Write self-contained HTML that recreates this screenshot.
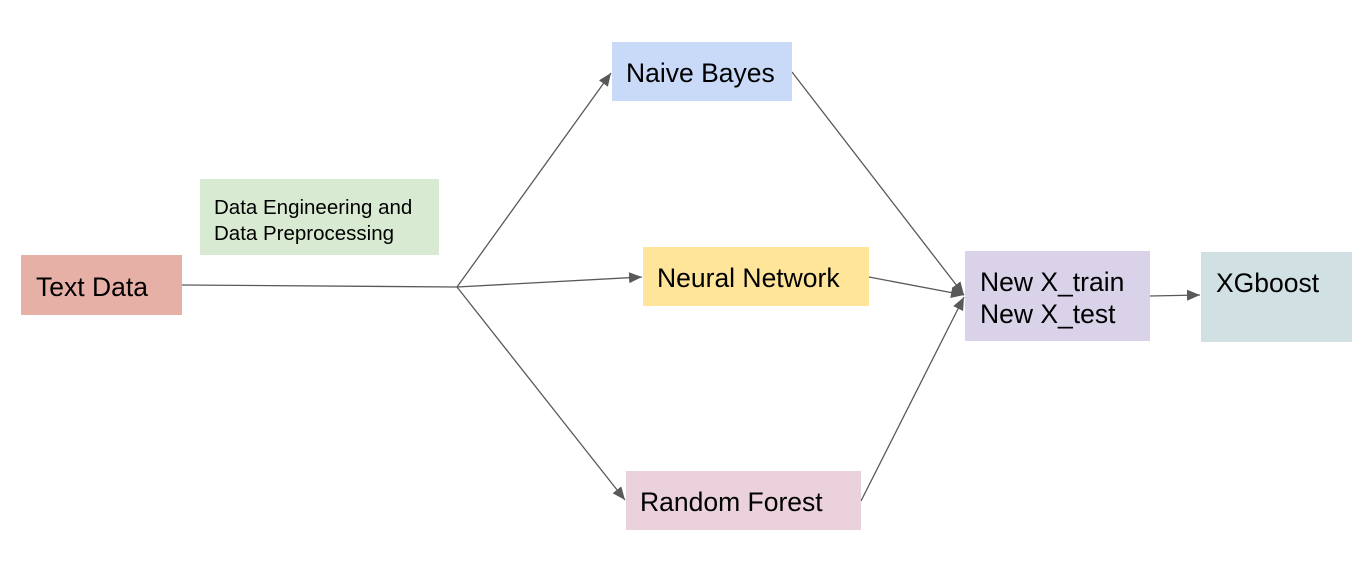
<!DOCTYPE html><html><head><style>
body{margin:0;width:1368px;height:576px;background:#fff;position:relative;overflow:hidden;font-family:"Liberation Sans",Arial,sans-serif;color:#000}
.b{position:absolute;box-sizing:border-box;font-size:26.5px;line-height:32px}
</style></head><body>
<svg width="1368" height="576" style="position:absolute;left:0;top:0">
<defs><marker id="a" markerWidth="14" markerHeight="14" refX="13" refY="6" orient="auto" markerUnits="userSpaceOnUse"><path d="M0,0.5 L13,6 L0,11.5z" fill="#595959"/></marker></defs>
<g stroke="#595959" stroke-width="1.3" fill="none">
<path d="M182,285 L457,287"/>
<path d="M457,287 L611,73" marker-end="url(#a)"/>
<path d="M457,287 L642,277" marker-end="url(#a)"/>
<path d="M457,287 L625,500" marker-end="url(#a)"/>
<path d="M792,72 L964,295" marker-end="url(#a)"/>
<path d="M869,277 L964,295" marker-end="url(#a)"/>
<path d="M861,501 L964,297" marker-end="url(#a)"/>
<path d="M1150,296 L1200,295" marker-end="url(#a)"/>
</g></svg>
<div class="b" style="left:21px;top:255px;width:161px;height:60px;background:#e6b0a7;padding:16px 0 0 15px">Text Data</div>
<div class="b" style="left:200px;top:179px;width:239px;height:76px;background:#d9ead3;font-size:20.5px;line-height:26px;padding:16px 0 0 14px;white-space:nowrap">Data Engineering and<br>Data Preprocessing</div>
<div class="b" style="left:612px;top:42px;width:180px;height:59px;background:#c9daf8;padding:15px 0 0 14px">Naive Bayes</div>
<div class="b" style="left:643px;top:247px;width:226px;height:59px;background:#ffe599;padding:15px 0 0 14px">Neural Network</div>
<div class="b" style="left:626px;top:471px;width:235px;height:59px;background:#ead1dc;padding:15px 0 0 14px">Random Forest</div>
<div class="b" style="left:965px;top:251px;width:185px;height:90px;background:#d9d2e9;padding:15px 0 0 15px">New X_train<br>New X_test</div>
<div class="b" style="left:1201px;top:252px;width:151px;height:90px;background:#d0e0e3;padding:15px 0 0 15px">XGboost</div>
</body></html>
